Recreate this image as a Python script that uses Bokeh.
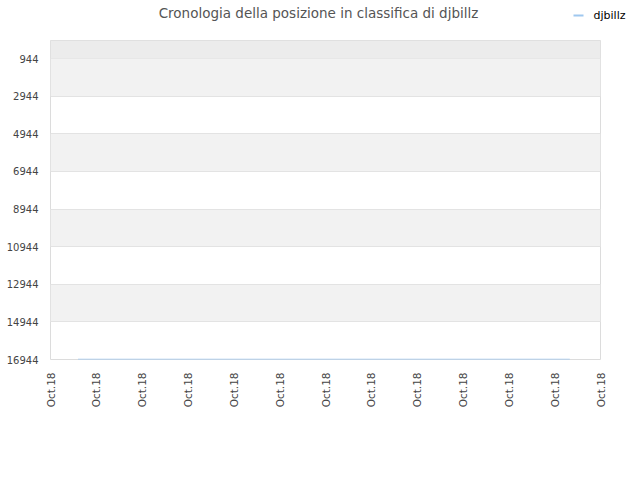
from bokeh.plotting import figure
from bokeh.models import (Range1d, FixedTicker, BoxAnnotation, Label)
from bokeh.layouts import column
from bokeh.embed import file_html
from bokeh.resources import INLINE
import math

title_text = "Cronologia della posizione in classifica di djbillz"
series_name = "djbillz"
x_ticks = list(range(13))
x_tick_labels = ["Oct.18"] * 13
y_ticks = [944, 2944, 4944, 6944, 8944, 10944, 12944, 14944, 16944]
pos_x = [0.6, 2.0, 4.0, 6.0, 8.0, 10.0, 11.33]
pos_rank = [16944, 16944, 16944, 16944, 16944, 16944, 16944]
line_color = "#9fc8ef"

# header with title and legend
h = figure(width=640, height=40, output_backend="svg", toolbar_location=None,
           x_range=Range1d(0, 640), y_range=Range1d(40, 0), title_location=None,
           min_border=0, min_border_left=0, min_border_right=0,
           min_border_top=0, min_border_bottom=0)
h.frame_align = False
h.axis.visible = False
h.grid.visible = False
h.outline_line_color = None
h.add_layout(Label(x=318, y=12, text=title_text, text_align="center", text_baseline="middle",
                   text_font="DejaVu Sans", text_font_size="13.5px", text_color="#555555"))
# legend key and label
h.segment(x0=[573], y0=[15], x1=[583], y1=[15], line_color=line_color, line_width=2)
h.add_layout(Label(x=593, y=15, text=series_name, text_align="left", text_baseline="middle",
                   text_font="DejaVu Sans", text_font_size="11px", text_color="#000000"))

p = figure(width=640, height=440, output_backend="svg", toolbar_location=None,
           x_range=Range1d(0, 12), y_range=Range1d(16944, -13), title_location=None,
           min_border_left=50, min_border_right=40, min_border_top=0, min_border_bottom=121)
p.frame_align = False

p.outline_line_color = "#dcdcdc"
p.background_fill_color = "white"
p.border_fill_color = "white"

p.xaxis.ticker = FixedTicker(ticks=x_ticks)
p.xaxis.major_label_overrides = {t: l for t, l in zip(x_ticks, x_tick_labels)}
p.xaxis.major_label_orientation = math.pi / 2
p.yaxis.ticker = FixedTicker(ticks=y_ticks)
for ax in (p.xaxis, p.yaxis):
    ax.axis_line_color = None
    ax.major_tick_line_color = None
    ax.minor_tick_line_color = None
    ax.major_tick_out = 0
    ax.major_tick_in = 0
    ax.minor_tick_out = 0
    ax.minor_tick_in = 0
    ax.major_label_text_font = "DejaVu Sans"
    ax.major_label_text_color = "#444444"
p.yaxis.major_label_text_font_size = "10px"
p.xaxis.major_label_text_font_size = "10.5px"
p.yaxis.major_label_standoff = 12
p.xaxis.major_label_standoff = 13

p.xgrid.grid_line_color = None
p.ygrid.ticker = FixedTicker(ticks=y_ticks)
p.ygrid.grid_line_color = "#e3e3e3"
p.ygrid.band_fill_color = "#f2f2f2"
p.ygrid.band_fill_alpha = 1.0

top_band = BoxAnnotation(top=y_ticks[0], bottom=-13, fill_color="#ececec", fill_alpha=1.0,
                         line_color=None, level="underlay")
p.add_layout(top_band)

p.line(pos_x, pos_rank, line_color=line_color, line_width=1.5)

layout = column(h, p, spacing=0)
open("out.html", "w").write(file_html(layout, INLINE))
